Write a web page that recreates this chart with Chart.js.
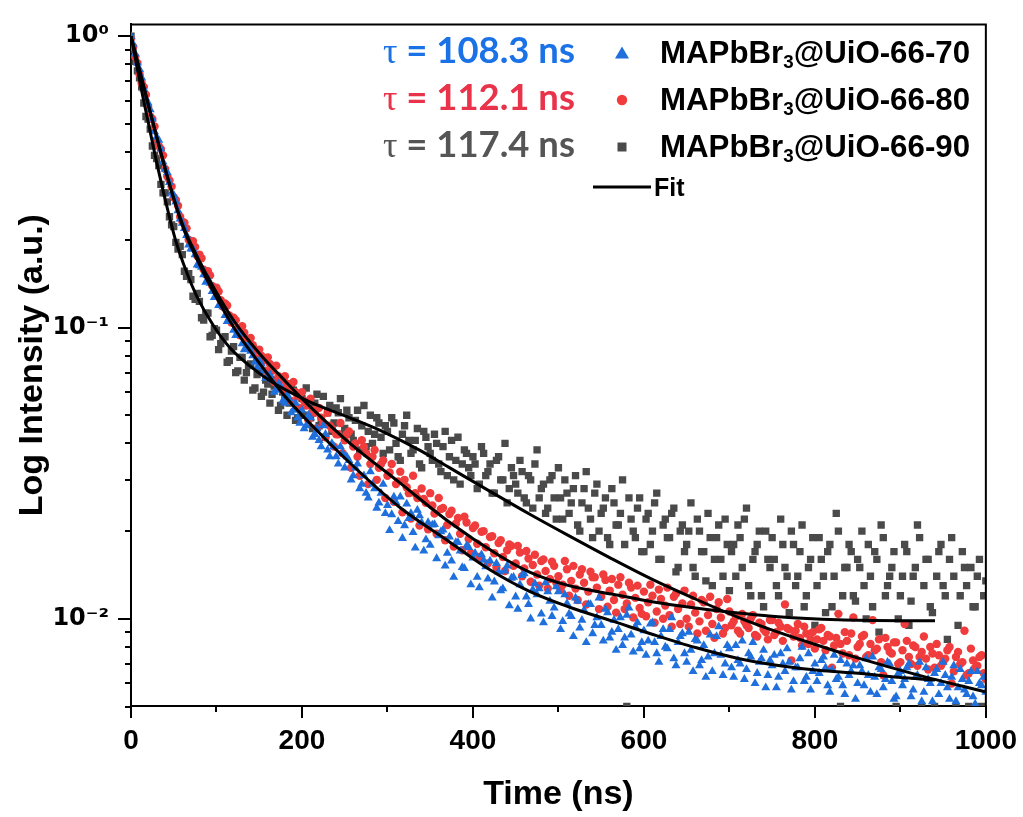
<!DOCTYPE html>
<html>
<head>
<meta charset="utf-8">
<script src="https://cdn.jsdelivr.net/npm/chart.js@4.4.1/dist/chart.umd.min.js"></script>
<style>
html,body{margin:0;padding:0;background:#fff;}
#wrap{width:1023px;height:817px;position:relative;}
</style>
</head>
<body>
<div id="wrap"><canvas id="c" width="1023" height="817"></canvas></div>
<script>
// ---------------- data ----------------
const timeNs = [
0,5,10,15,20,25,30,35,40,45,50,55,60,65,70,75,80,85,90,95,
100,105,110,115,120,125,130,135,140,145,150,155,160,165,170,175,180,185,190,195,
200,205,210,215,220,225,230,235,240,245,250,255,260,265,270,275,280,285,290,295,
300,305,310,315,320,325,330,335,340,345,350,355,360,365,370,375,380,385,390,395,
400,405,410,415,420,425,430,435,440,445,450,455,460,465,470,475,480,485,490,495,
500,505,510,515,520,525,530,535,540,545,550,555,560,565,570,575,580,585,590,595,
600,605,610,615,620,625,630,635,640,645,650,655,660,665,670,675,680,685,690,695,
700,705,710,715,720,725,730,735,740,745,750,755,760,765,770,775,780,785,790,795,
800,805,810,815,820,825,830,835,840,845,850,855,860,865,870,875,880,885,890,895,
900,905,910,915,920,925,930,935,940,945,950,955,960,965,970,975,980,985,990,995,
1000];
const timeNsHalf = [
2.5,7.5,12.5,17.5,22.5,27.5,32.5,37.5,42.5,47.5,52.5,57.5,62.5,67.5,72.5,77.5,82.5,87.5,92.5,97.5,
102.5,107.5,112.5,117.5,122.5,127.5,132.5,137.5,142.5,147.5,152.5,157.5,162.5,167.5,172.5,177.5,182.5,187.5,192.5,197.5,
202.5,207.5,212.5,217.5,222.5,227.5,232.5,237.5,242.5,247.5,252.5,257.5,262.5,267.5,272.5,277.5,282.5,287.5,292.5,297.5,
302.5,307.5,312.5,317.5,322.5,327.5,332.5,337.5,342.5,347.5,352.5,357.5,362.5,367.5,372.5,377.5,382.5,387.5,392.5,397.5,
402.5,407.5,412.5,417.5,422.5,427.5,432.5,437.5,442.5,447.5,452.5,457.5,462.5,467.5,472.5,477.5,482.5,487.5,492.5,497.5,
502.5,507.5,512.5,517.5,522.5,527.5,532.5,537.5,542.5,547.5,552.5,557.5,562.5,567.5,572.5,577.5,582.5,587.5,592.5,597.5,
602.5,607.5,612.5,617.5,622.5,627.5,632.5,637.5,642.5,647.5,652.5,657.5,662.5,667.5,672.5,677.5,682.5,687.5,692.5,697.5,
702.5,707.5,712.5,717.5,722.5,727.5,732.5,737.5,742.5,747.5,752.5,757.5,762.5,767.5,772.5,777.5,782.5,787.5,792.5,797.5,
802.5,807.5,812.5,817.5,822.5,827.5,832.5,837.5,842.5,847.5,852.5,857.5,862.5,867.5,872.5,877.5,882.5,887.5,892.5,897.5,
902.5,907.5,912.5,917.5,922.5,927.5,932.5,937.5,942.5,947.5,952.5,957.5,962.5,967.5,972.5,977.5,982.5,987.5,992.5,997.5];

// MAPbBr3@UiO-66-70 (blue triangles)
const int70 = [
1.00,0.87,0.77,0.66,0.59,0.52,0.45,0.41,0.35,0.315,
0.285,0.252,0.228,0.207,0.186,0.178,0.163,0.152,0.147,0.133,
0.127,0.121,0.110,0.108,0.098,0.097,0.088,0.086,0.083,0.076,
0.077,0.071,0.068,0.066,0.061,0.063,0.055,0.057,0.052,0.049,
0.052,0.046,0.049,0.043,0.041,0.046,0.038,0.040,0.036,0.039,
0.033,0.035,0.031,0.034,0.029,0.027,0.032,0.028,0.025,0.029,
0.0245,0.0228,0.0251,0.0262,0.0209,0.0221,0.0198,0.0236,0.0214,0.0187,
0.0179,0.0211,0.0193,0.0202,0.0168,0.0158,0.0183,0.0171,0.0149,0.0176,
0.0162,0.0139,0.0166,0.0151,0.0158,0.0134,0.0145,0.0127,0.0152,0.0138,
0.0119,0.0131,0.0143,0.0112,0.0126,0.0121,0.0104,0.0133,0.0115,0.0109,
0.0124,0.0098,0.0113,0.0102,0.0118,0.0093,0.0107,0.0112,0.0089,0.0101,
0.0095,0.0108,0.0086,0.0099,0.0092,0.0081,0.0103,0.0088,0.0094,0.0079,
0.0091,0.0084,0.0097,0.0076,0.0087,0.0080,0.0092,0.0073,0.0083,0.0089,
0.0071,0.0078,0.0085,0.0069,0.0081,0.0074,0.0066,0.0087,0.0075,0.0070,
0.0079,0.0063,0.0072,0.0084,0.0067,0.0074,0.0060,0.0071,0.0078,0.0064,
0.0069,0.0058,0.0076,0.0066,0.0071,0.0061,0.0068,0.0080,0.0063,0.0057,
0.0070,0.0065,0.0074,0.0059,0.0067,0.0062,0.0072,0.0055,0.0064,0.0069,
0.0060,0.0066,0.0073,0.0056,0.0063,0.0068,0.0058,0.0071,0.0061,0.0054,
0.0066,0.0062,0.0070,0.0057,0.0064,0.0052,0.0068,0.0060,0.0065,0.0055,
0.0071,0.0058,0.0063,0.0052,0.0067,0.0057,0.0061,0.0054,0.0066,0.0059,
0.0056];
const int70Half = [
0.94,0.81,0.72,0.61,0.56,0.47,0.44,0.37,0.34,0.29,
0.270,0.236,0.219,0.192,0.186,0.164,0.161,0.143,0.142,0.127,
0.119,0.118,0.105,0.106,0.094,0.095,0.084,0.086,0.080,0.073,
0.075,0.067,0.069,0.060,0.064,0.056,0.059,0.051,0.055,0.047,
0.045,0.050,0.042,0.045,0.039,0.043,0.036,0.039,0.034,0.037,
0.036,0.030,0.033,0.028,0.031,0.026,0.029,0.024,0.027,0.023,
0.0201,0.0262,0.0216,0.0189,0.0248,0.0230,0.0175,0.0226,0.0171,0.0214,
0.0210,0.0161,0.0199,0.0152,0.0191,0.0139,0.0183,0.0150,0.0178,0.0131,
0.0168,0.0128,0.0159,0.0137,0.0118,0.0155,0.0125,0.0146,0.0111,0.0139,
0.0108,0.0141,0.0119,0.0100,0.0132,0.0127,0.0097,0.0124,0.0102,0.0129,
0.0092,0.0121,0.0104,0.0087,0.0115,0.0099,0.0083,0.0112,0.0095,0.0118,
0.0084,0.0105,0.0090,0.0078,0.0101,0.0086,0.0109,0.0077,0.0097,0.0083,
0.0075,0.0096,0.0083,0.0071,0.0092,0.0079,0.0101,0.0069,0.0087,0.0076,
0.0090,0.0066,0.0084,0.0072,0.0063,0.0088,0.0076,0.0094,0.0064,0.0081,
0.0068,0.0081,0.0070,0.0062,0.0076,0.0083,0.0065,0.0073,0.0058,0.0072,
0.0075,0.0063,0.0070,0.0079,0.0057,0.0068,0.0073,0.0061,0.0076,0.0066,
0.0061,0.0072,0.0068,0.0056,0.0075,0.0063,0.0059,0.0070,0.0066,0.0053,
0.0069,0.0059,0.0064,0.0074,0.0055,0.0067,0.0062,0.0070,0.0053,0.0065,
0.0059,0.0068,0.0054,0.0063,0.0071,0.0056,0.0062,0.0052,0.0067,0.0060,
0.0064,0.0053,0.0069,0.0058,0.0062,0.0055,0.0066,0.0051,0.0060,0.0063];

// MAPbBr3@UiO-66-80 (red circles)
const int80 = [
0.98,0.85,0.74,0.67,0.57,0.52,0.44,0.41,0.35,0.32,
0.28,0.262,0.231,0.219,0.195,0.189,0.178,0.158,0.156,0.139,
0.137,0.124,0.121,0.110,0.108,0.099,0.101,0.091,0.092,0.083,
0.084,0.077,0.079,0.071,0.074,0.066,0.068,0.062,0.065,0.058,
0.060,0.054,0.057,0.051,0.053,0.047,0.051,0.045,0.043,0.047,
0.041,0.044,0.039,0.036,0.041,0.037,0.034,0.038,0.033,0.035,
0.031,0.034,0.029,0.032,0.030,0.027,0.031,0.026,0.028,0.025,
0.027,0.023,0.026,0.024,0.021,0.0235,0.0212,0.0196,0.0224,0.0188,
0.0205,0.0181,0.0199,0.0176,0.0191,0.0168,0.0182,0.0163,0.0172,0.0178,
0.0155,0.0169,0.0149,0.0161,0.0153,0.0142,0.0158,0.0146,0.0137,0.0152,
0.0140,0.0131,0.0148,0.0135,0.0127,0.0142,0.0133,0.0124,0.0139,0.0128,
0.0119,0.0136,0.0125,0.0116,0.0131,0.0121,0.0113,0.0128,0.0118,0.0109,
0.0124,0.0114,0.0120,0.0106,0.0117,0.0111,0.0103,0.0119,0.0108,0.0113,
0.0100,0.0112,0.0105,0.0098,0.0114,0.0103,0.0096,0.0108,0.0101,0.0093,
0.0106,0.0098,0.0091,0.0104,0.0095,0.0100,0.0088,0.0097,0.0092,0.0085,
0.0099,0.0090,0.0094,0.0112,0.0092,0.0087,0.0096,0.0081,0.0089,0.0085,
0.0079,0.0092,0.0084,0.0088,0.0068,0.0086,0.0082,0.0090,0.0075,0.0101,
0.0080,0.0087,0.0074,0.0082,0.0078,0.0085,0.0064,0.0080,0.0076,0.0083,
0.0071,0.0096,0.0074,0.0081,0.0069,0.0077,0.0073,0.0080,0.0068,0.0075,
0.0071,0.0078,0.0060,0.0074,0.0070,0.0091,0.0065,0.0072,0.0069,0.0075,
0.0062];
const int80Half = [
0.92,0.81,0.69,0.63,0.53,0.49,0.42,0.39,0.33,0.305,
0.274,0.240,0.229,0.200,0.198,0.176,0.173,0.152,0.151,0.135,
0.133,0.118,0.119,0.104,0.106,0.094,0.096,0.085,0.087,0.078,
0.080,0.071,0.075,0.065,0.068,0.061,0.064,0.056,0.060,0.053,
0.056,0.048,0.052,0.045,0.049,0.042,0.046,0.039,0.043,0.037,
0.043,0.033,0.040,0.031,0.039,0.029,0.036,0.030,0.034,0.026,
0.0318,0.0252,0.0296,0.0232,0.0283,0.0221,0.0270,0.0209,0.0258,0.0203,
0.0245,0.0196,0.0238,0.0186,0.0229,0.0177,0.0222,0.0172,0.0214,0.0168,
0.0209,0.0163,0.0200,0.0155,0.0192,0.0150,0.0186,0.0146,0.0180,0.0152,
0.0178,0.0140,0.0171,0.0134,0.0166,0.0130,0.0160,0.0127,0.0157,0.0133,
0.0126,0.0158,0.0120,0.0152,0.0116,0.0148,0.0112,0.0145,0.0139,0.0108,
0.0142,0.0110,0.0137,0.0105,0.0139,0.0108,0.0133,0.0101,0.0130,0.0104,
0.0102,0.0131,0.0097,0.0126,0.0100,0.0128,0.0094,0.0122,0.0096,0.0125,
0.0094,0.0120,0.0089,0.0116,0.0091,0.0119,0.0086,0.0114,0.0089,0.0117,
0.0095,0.0102,0.0089,0.0098,0.0093,0.0103,0.0087,0.0096,0.0090,0.0099,
0.0088,0.0097,0.0084,0.0093,0.0072,0.0091,0.0086,0.0094,0.0082,0.0090,
0.0085,0.0093,0.0078,0.0087,0.0081,0.0104,0.0076,0.0084,0.0089,0.0073,
0.0082,0.0088,0.0075,0.0099,0.0079,0.0071,0.0086,0.0077,0.0083,0.0070,
0.0078,0.0084,0.0070,0.0080,0.0074,0.0087,0.0067,0.0076,0.0082,0.0069,
0.0073,0.0080,0.0066,0.0077,0.0071,0.0064,0.0079,0.0068,0.0074,0.0065];

// MAPbBr3@UiO-66-90 (grey squares)
const int90 = [
1.00,0.82,0.72,0.59,0.52,0.42,0.38,0.31,0.29,0.24,
0.222,0.186,0.178,0.150,0.146,0.125,0.123,0.106,0.112,0.094,
0.098,0.088,0.093,0.077,0.086,0.071,0.079,0.070,0.075,0.062,
0.071,0.060,0.064,0.059,0.066,0.054,0.058,0.055,0.061,0.049,
0.057,0.062,0.049,0.055,0.046,0.058,0.051,0.044,0.053,0.057,
0.045,0.049,0.041,0.052,0.046,0.039,0.050,0.043,0.047,0.037,
0.044,0.049,0.040,0.035,0.046,0.041,0.038,0.045,0.033,0.042,
0.037,0.043,0.034,0.039,0.031,0.041,0.035,0.029,0.038,0.033,
0.036,0.028,0.039,0.031,0.034,0.027,0.036,0.030,0.025,0.033,
0.029,0.035,0.026,0.031,0.024,0.038,0.028,0.023,0.030,0.026,
0.033,0.022,0.027,0.025,0.031,0.020,0.028,0.024,0.019,0.029,
0.023,0.026,0.018,0.025,0.021,0.030,0.0050,0.022,0.019,0.026,
0.017,0.023,0.020,0.027,0.016,0.022,0.019,0.024,0.015,0.021,
0.018,0.025,0.014,0.020,0.017,0.023,0.013,0.019,0.016,0.022,
0.0125,0.018,0.021,0.015,0.024,0.012,0.017,0.020,0.011,0.016,
0.019,0.013,0.022,0.015,0.0105,0.018,0.014,0.021,0.012,0.016,
0.0095,0.019,0.014,0.017,0.011,0.023,0.0050,0.015,0.018,0.012,
0.016,0.020,0.010,0.014,0.017,0.0090,0.019,0.013,0.015,0.0050,
0.012,0.018,0.0095,0.014,0.021,0.0050,0.016,0.011,0.0050,0.017,
0.013,0.0085,0.019,0.0050,0.012,0.015,0.0050,0.011,0.014,0.0050,
0.0135];
const int90Half = [
0.90,0.76,0.67,0.53,0.48,0.39,0.36,0.29,0.27,0.225,
0.196,0.190,0.156,0.153,0.128,0.131,0.108,0.112,0.093,0.099,
0.084,0.091,0.076,0.083,0.070,0.079,0.066,0.074,0.061,0.069,
0.058,0.066,0.055,0.063,0.052,0.060,0.050,0.064,0.048,0.058,
0.050,0.055,0.045,0.059,0.048,0.042,0.054,0.047,0.051,0.043,
0.052,0.043,0.048,0.038,0.054,0.044,0.040,0.049,0.042,0.046,
0.038,0.047,0.036,0.043,0.050,0.037,0.041,0.034,0.044,0.039,
0.035,0.040,0.032,0.044,0.036,0.030,0.042,0.034,0.037,0.031,
0.034,0.029,0.037,0.032,0.027,0.035,0.030,0.040,0.028,0.031,
0.027,0.032,0.025,0.030,0.034,0.026,0.029,0.024,0.031,0.022,
0.026,0.030,0.023,0.028,0.021,0.025,0.032,0.022,0.027,0.020,
0.024,0.019,0.028,0.021,0.023,0.018,0.026,0.020,0.024,0.017,
0.022,0.018,0.025,0.016,0.021,0.019,0.023,0.0145,0.020,0.017,
0.020,0.015,0.022,0.017,0.0135,0.019,0.016,0.021,0.014,0.018,
0.017,0.014,0.019,0.022,0.013,0.016,0.018,0.012,0.020,0.015,
0.016,0.012,0.018,0.014,0.020,0.013,0.017,0.011,0.015,0.019,
0.013,0.016,0.0105,0.018,0.014,0.020,0.012,0.015,0.017,0.0115,
0.015,0.013,0.018,0.011,0.016,0.021,0.012,0.014,0.017,0.010,
0.014,0.017,0.0115,0.015,0.019,0.013,0.016,0.0105,0.014,0.018,
0.012,0.016,0.014,0.0095,0.017,0.013,0.015,0.011,0.016,0.012];

// fit curves
const fitTime70 = [0,10.5,22.2,33.8,45.5,60.7,75.8,98,121.4,150.5,177.4,208.9,255.5,313.9,372.2,418.9,465.6,512.3,562.4,611.4,660.4,710.6,757.3,804,850.6,897.3,940.5];
const fit70 = [1,0.755,0.552,0.410,0.307,0.2212,0.1749,0.130,0.0988,0.0752,0.0594,0.0470,0.0344,0.0242,0.0184,0.0148,0.01245,0.01098,0.00984,0.00882,0.00797,0.00731,0.00692,0.00666,0.0065,0.0063,0.00616];
const fitTime80 = [0,10.5,22.2,33.8,45.5,60.7,75.8,98,121.4,150.5,177.4,208.9,255.5,313.9,372.2,430.6,465.6,512.3,562.4,611.4,660.4,710.6,757.3,827.3,940.5];
const fit80 = [1,0.755,0.552,0.410,0.307,0.2246,0.179,0.1351,0.1044,0.0813,0.0669,0.0537,0.0402,0.0294,0.0215,0.0165,0.0145,0.0130,0.01216,0.01142,0.0109,0.01048,0.01016,0.00992,0.00984];
const fitTime90 = [0,14,28,40,52,65,77,96,116,139,162,186,209,256,294,337,372,419,466,512,562,611,660,711,757,804,851,921,999];
const fit90 = [1,0.617,0.393,0.275,0.200,0.155,0.128,0.102,0.0850,0.0738,0.0658,0.0600,0.0556,0.0490,0.0440,0.0380,0.0331,0.0275,0.0229,0.0193,0.0161,0.0136,0.0117,0.0101,0.0090,0.0081,0.00733,0.00641,0.00562];

// axes ticks
const xTickValues = [0,100,200,300,400,500,600,700,800,900,1000];
const xLabelValues = [0,200,400,600,800,1000];
const yTickValues = [0.005,0.006,0.007,0.008,0.009,0.01,0.02,0.03,0.04,0.05,0.06,0.07,0.08,0.09,0.1,0.2,0.3,0.4,0.5,0.6,0.7,0.8,0.9,1];
const yLabelValues = [1,0.1,0.01];
const yLabelTexts = ['10\u2070','10\u207B\u00B9','10\u207B\u00B2'];

// legend texts
const tauValues = ['108.3','112.1','117.4'];
const namePrefix = 'MAPbBr';
const nameSub = '3';
const nameSuffixes = ['@UiO-66-70','@UiO-66-80','@UiO-66-90'];
const fitLabel = 'Fit';

// ---------------- styling ----------------
const cBlue = '#1f6fdc', cRed = '#f03c3c', cGrey = '#4a4a4a';
const tauColors = ['#1a72e6','#e8334a','#555555'];
const markerStyles = ['triangle','circle','rect'];
const markerColors = [cBlue, cRed, cGrey];

function pts(xs, ys){ return xs.map((x,i)=>({x:x, y:ys[i]})); }

function fitDs(xs, ys){
  return {data: pts(xs, ys), showLine:true, borderColor:'#000', borderWidth:3, pointRadius:0,
          cubicInterpolationMode:'monotone', fill:false};
}

const decor = {
  id:'decor',
  afterDraw(chart){
    const ctx = chart.ctx, a = chart.chartArea, xs = chart.scales.x, ys = chart.scales.y;
    ctx.save();
    ctx.strokeStyle = '#000';
    ctx.lineWidth = 2;
    // frame (top and right)
    ctx.beginPath();
    ctx.moveTo(a.left - 1, a.top);
    ctx.lineTo(a.right, a.top);
    ctx.lineTo(a.right, a.bottom + 1);
    ctx.stroke();
    // tick marks
    ys.ticks.forEach(t => {
      const py = Math.round(ys.getPixelForValue(t.value));
      const len = yLabelValues.includes(t.value) ? 13 : 6;
      ctx.beginPath(); ctx.moveTo(a.left - len, py); ctx.lineTo(a.left, py); ctx.stroke();
    });
    xs.ticks.forEach(t => {
      const px = Math.round(xs.getPixelForValue(t.value));
      const len = xLabelValues.includes(t.value) ? 12 : 6;
      ctx.beginPath(); ctx.moveTo(px, a.bottom); ctx.lineTo(px, a.bottom + len); ctx.stroke();
    });

    // legend
    const rowY = [53, 100, 147];
    ctx.font = '36px "Liberation Serif"';
    const tauW = ctx.measureText('\u03C4').width;
    const restTxt0 = ' = ' + tauValues[0] + ' ns';
    ctx.font = 'bold 30px "Lato"';
    const restW0 = ctx.measureText(restTxt0).width;
    const restSize = 30 * (575 - 383 - tauW) / restW0;
    ctx.font = 'bold 30px "Liberation Sans"';
    const w1 = ctx.measureText(namePrefix).width;
    const w2 = ctx.measureText(nameSuffixes[0]).width;
    ctx.font = 'bold 18px "Liberation Sans"';
    const w3 = ctx.measureText(nameSub).width;
    const nameSize = 30 * 310 / (w1 + w2 + w3);
    const subSize = nameSize * 0.6;

    for (let i = 0; i < 3; i++) {
      const cy = rowY[i];
      const base = cy + 10;
      ctx.textBaseline = 'alphabetic';
      ctx.textAlign = 'left';
      ctx.fillStyle = tauColors[i];
      ctx.font = '36px "Liberation Serif"';
      ctx.fillText('\u03C4', 383, base);
      ctx.font = 'bold ' + restSize.toFixed(2) + 'px "Lato"';
      ctx.fillText(' = ' + tauValues[i] + ' ns', 383 + tauW, base);
      // marker
      ctx.fillStyle = markerColors[i];
      ctx.beginPath();
      const mx = 622;
      if (markerStyles[i] === 'triangle') {
        ctx.moveTo(mx, cy - 6.5); ctx.lineTo(mx + 7, cy + 5.5); ctx.lineTo(mx - 7, cy + 5.5); ctx.closePath();
      } else if (markerStyles[i] === 'circle') {
        ctx.arc(mx, cy, 5.2, 0, Math.PI * 2);
      } else {
        ctx.rect(mx - 4.5, cy - 4.5, 9, 9);
      }
      ctx.fill();
      // name
      ctx.fillStyle = '#000';
      let x = 660;
      ctx.font = 'bold ' + nameSize.toFixed(2) + 'px "Liberation Sans"';
      ctx.fillText(namePrefix, x, base);
      x += ctx.measureText(namePrefix).width;
      ctx.font = 'bold ' + subSize.toFixed(2) + 'px "Liberation Sans"';
      ctx.fillText(nameSub, x, base + 5);
      x += ctx.measureText(nameSub).width;
      ctx.font = 'bold ' + nameSize.toFixed(2) + 'px "Liberation Sans"';
      ctx.fillText(nameSuffixes[i], x, base);
    }
    // fit entry
    ctx.strokeStyle = '#000';
    ctx.lineWidth = 3;
    ctx.beginPath(); ctx.moveTo(593, 187); ctx.lineTo(651, 187); ctx.stroke();
    ctx.fillStyle = '#000';
    ctx.font = 'bold 25px "Liberation Sans"';
    ctx.fillText(fitLabel, 654, 196);
    ctx.restore();
  }
};

Chart.defaults.font.family = '"Liberation Sans", "DejaVu Sans", sans-serif';

new Chart(document.getElementById('c'), {
  type: 'scatter',
  data: {
    datasets: [
      fitDs(fitTime70, fit70),
      fitDs(fitTime80, fit80),
      fitDs(fitTime90, fit90),
      {label:'MAPbBr3@UiO-66-70', data: pts(timeNs, int70).concat(pts(timeNsHalf, int70Half)), pointStyle:'triangle', pointRadius:5.2,
       backgroundColor:cBlue, borderWidth:0, showLine:false},
      {label:'MAPbBr3@UiO-66-80', data: pts(timeNs, int80).concat(pts(timeNsHalf, int80Half)), pointStyle:'circle', pointRadius:4.2,
       backgroundColor:cRed, borderWidth:0, showLine:false},
      {label:'MAPbBr3@UiO-66-90', data: pts(timeNs, int90).concat(pts(timeNsHalf, int90Half)), pointStyle:'rect', pointRadius:5.2,
       backgroundColor:cGrey, borderWidth:0, showLine:false}
    ]
  },
  options: {
    responsive:false, animation:false, devicePixelRatio:1,
    layout:{padding:{left:0, right:35, top:17, bottom:0}},
    plugins:{legend:{display:false}, tooltip:{enabled:false}},
    scales:{
      x:{
        type:'linear', min:0, max:1000,
        afterBuildTicks: s => { s.ticks = xTickValues.map(v => ({value:v})); },
        afterFit: s => { s.height = 111; },
        ticks:{
          autoSkip:false, maxRotation:0, padding:6, color:'#000',
          font:{size:28, weight:'bold'},
          callback: v => xLabelValues.includes(v) ? String(v) : ''
        },
        grid:{display:true, drawOnChartArea:false, drawTicks:true, tickLength:12, color:'rgba(0,0,0,0)'},
        border:{display:true, color:'#000', width:2},
        title:{display:true, text:'Time (ns)', color:'#000', font:{size:34, weight:'bold'}, padding:{top:0, bottom:2}}
      },
      y:{
        type:'logarithmic', min:0.00502, max:1.098,
        afterBuildTicks: s => { s.ticks = yTickValues.map(v => ({value:v})); },
        afterFit: s => { s.width = 131; },
        ticks:{
          autoSkip:false, padding:10, color:'#000',
          font:{family:'"DejaVu Sans"', size:24, weight:'bold'},
          callback: v => { const k = yLabelValues.indexOf(v); return k >= 0 ? yLabelTexts[k] : ''; }
        },
        grid:{display:true, drawOnChartArea:false, drawTicks:true, tickLength:12, color:'rgba(0,0,0,0)'},
        border:{display:true, color:'#000', width:2},
        title:{display:true, text:'Log Intensity (a.u.)', color:'#000', font:{size:34, weight:'bold'}, padding:{top:12, bottom:0}}
      }
    }
  },
  plugins:[decor]
});
</script>
</body>
</html>
